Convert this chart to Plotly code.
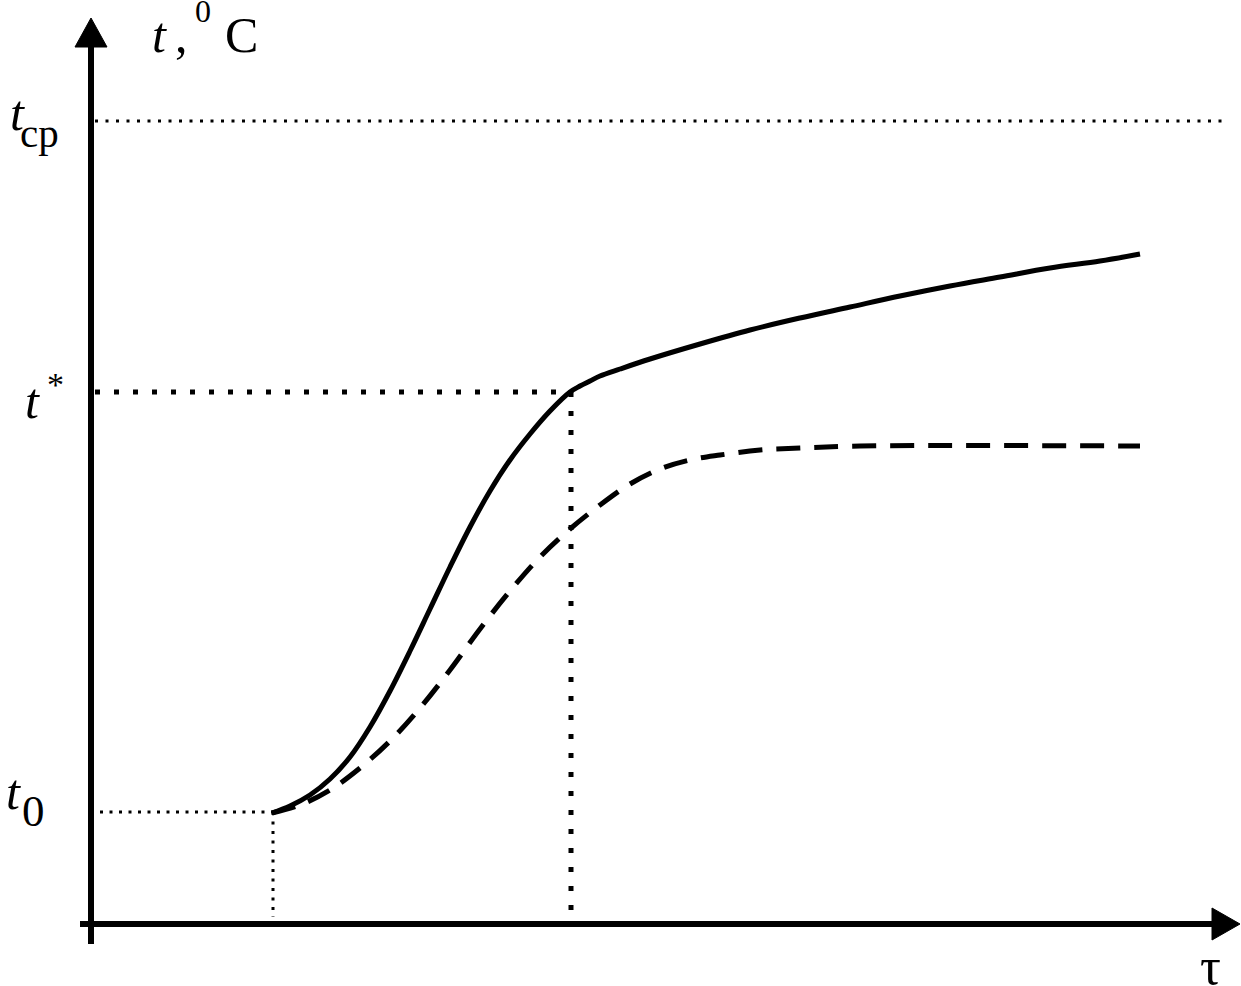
import plotly.graph_objects as go

# ---- data (tau, t in drawing units; origin at axis crossing) ----
tau_solid = [181, 199, 219, 239, 259, 279, 299, 319, 339, 359, 379, 399, 419, 439, 459, 479,
             489, 499, 509, 529, 559, 609, 659, 709, 759, 809, 859, 909, 959, 1009, 1049]
t_solid = [111, 118, 129, 145, 167, 197, 233, 273, 315, 357, 397, 433, 464, 490, 513, 532,
           538, 543, 548, 555, 565, 580, 594, 606, 617, 628, 638, 647, 656, 663, 670]

tau_dashed = [181, 209, 239, 269, 299, 329, 359, 389, 419, 449, 479, 509, 539, 569, 599, 629,
              669, 709, 769, 1049]
t_dashed = [111, 119, 134, 156, 183, 216, 254, 295, 333, 367, 395, 419, 440, 455, 464, 469,
            474, 476, 478, 478]

t0_level = 112
t_star_level = 532
t_cp_level = 803
tau0 = 182
tau_star = 480

x_axis_end = 1149
y_axis_end = 906

SERIF = "Liberation Serif"

fig = go.Figure()

def line(x, y, width, dash="solid", shape="linear"):
    fig.add_trace(go.Scatter(x=x, y=y, mode="lines", hoverinfo="skip", showlegend=False,
                             line=dict(color="black", width=width, dash=dash, shape=shape)))

# dotted reference lines
line([4, 1131], [t_cp_level, t_cp_level], 3, "3px,7.5px")
line([4, tau_star], [t_star_level, t_star_level], 5, "5px,14px")
line([tau_star, tau_star], [t_star_level, 2], 5, "5px,14px")
line([9, tau0 - 1], [t0_level, t0_level], 3, "3px,6.5px")
line([tau0, tau0], [t0_level, 7], 3, "3px,6.5px")

# curves
line(tau_dashed, t_dashed, 5, "24px,14px", "spline")
line(tau_solid, t_solid, 5, "solid", "spline")

# axes
line([0, 0], [-20, y_axis_end - 26], 6)
line([-11, x_axis_end - 26], [0, 0], 6)
# arrow heads
fig.add_trace(go.Scatter(x=[-16, 16, 0, -16], y=[y_axis_end - 29, y_axis_end - 29, y_axis_end, y_axis_end - 29],
                         mode="lines", fill="toself", fillcolor="black", line=dict(color="black", width=1),
                         hoverinfo="skip", showlegend=False))
fig.add_trace(go.Scatter(x=[x_axis_end - 28, x_axis_end - 28, x_axis_end, x_axis_end - 28], y=[16, -16, 0, 16],
                         mode="lines", fill="toself", fillcolor="black", line=dict(color="black", width=1),
                         hoverinfo="skip", showlegend=False))

def label(text, x, y, size, italic=False):
    fig.add_annotation(x=x, y=y, xref="x", yref="y", text=("<i>%s</i>" % text) if italic else text,
                       showarrow=False, xanchor="center", yanchor="middle",
                       font=dict(family=SERIF, size=size, color="black"))

# axis title  t , 0C
label("t", 68, 889, 50, italic=True)
label(",", 90, 889, 50)
label("0", 112, 913, 32)
label("C", 150, 889, 50)
# t_cp
label("t", -74, 811, 50, italic=True)
label("cp", -52, 791, 41)
# t*
label("t", -59, 523, 50, italic=True)
label("*", -36, 540, 34)
# t0
label("t", -78, 132, 50, italic=True)
label("0", -58, 113, 45)
# tau
label("τ", 1119, -42, 52)

fig.update_layout(
    width=1241, height=986,
    margin=dict(l=0, r=0, t=0, b=0),
    paper_bgcolor="white", plot_bgcolor="white",
    xaxis=dict(range=[-91, 1150], visible=False, fixedrange=True),
    yaxis=dict(range=[-62, 924], visible=False, fixedrange=True),
    showlegend=False,
)

fig.write_html("out.html", config={"displayModeBar": False},
               post_script="document.body.style.margin='0';document.body.style.overflow='hidden';")
